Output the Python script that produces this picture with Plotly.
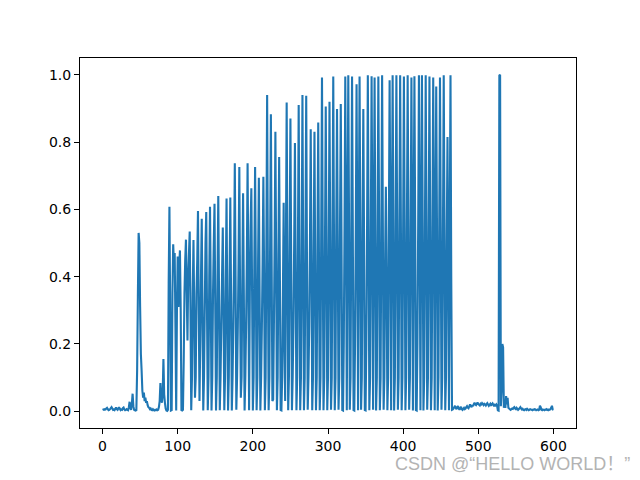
import plotly.graph_objects as go

# signal values, one per sample (index 0..600)
amplitude = [
    0.004, 0.005, 0.004, 0.006, 0.005, 0.008, 0.010, 0.006, 0.003, 0.004,
    0.006, 0.009, 0.012, 0.008, 0.004, 0.005, 0.003, 0.007, 0.011, 0.006,
    0.004, 0.008, 0.012, 0.007, 0.003, 0.005, 0.004, 0.009, 0.011, 0.005,
    0.003, 0.004, 0.006, 0.004, 0.003, 0.012, 0.028, 0.010, 0.004, 0.022,
    0.052, 0.015, 0.004, 0.003, 0.002, 0.003, 0.12, 0.34, 0.53, 0.50,
    0.31, 0.17, 0.12, 0.06, 0.04, 0.055, 0.03, 0.04, 0.025, 0.03,
    0.018, 0.012, 0.01, 0.006, 0.008, 0.004, 0.003, 0.006, 0.003, 0.002,
    0.004, 0.003, 0.005, 0.003, 0.004, 0.012, 0.03, 0.084, 0.04, 0.025,
    0.05, 0.155, 0.05, 0.025, 0.008, 0.002, 0.001, 0.004, 0.38, 0.608,
    0.3, 0.002, 0.003, 0.35, 0.496, 0.44, 0.47, 0.25, 0.002, 0.3,
    0.46, 0.31, 0.43, 0.478, 0.3, 0.003, 0.002, 0.004, 0.15, 0.35,
    0.45, 0.51, 0.35, 0.21, 0.4, 0.47, 0.534, 0.3, 0.003, 0.1,
    0.35, 0.509, 0.3, 0.04, 0.1, 0.35, 0.45, 0.595, 0.3, 0.03,
    0.2, 0.4, 0.572, 0.3, 0.002, 0.1, 0.3, 0.5, 0.592, 0.3,
    0.003, 0.1, 0.4, 0.608, 0.35, 0.002, 0.1, 0.35, 0.5, 0.617,
    0.3, 0.002, 0.1, 0.4, 0.64, 0.35, 0.003, 0.1, 0.25, 0.4,
    0.546, 0.3, 0.003, 0.1, 0.4, 0.632, 0.3, 0.002, 0.1, 0.4,
    0.635, 0.35, 0.002, 0.1, 0.25, 0.45, 0.737, 0.4, 0.004, 0.1,
    0.25, 0.45, 0.726, 0.35, 0.04, 0.1, 0.4, 0.648, 0.35, 0.002,
    0.1, 0.25, 0.45, 0.737, 0.4, 0.003, 0.35, 0.55, 0.663, 0.35,
    0.002, 0.1, 0.45, 0.726, 0.4, 0.003, 0.1, 0.45, 0.694, 0.35,
    0.002, 0.1, 0.25, 0.45, 0.697, 0.4, 0.003, 0.1, 0.5, 0.94,
    0.45, 0.003, 0.1, 0.5, 0.883, 0.45, 0.03, 0.035, 0.25, 0.5,
    0.831, 0.45, 0.003, 0.1, 0.45, 0.756, 0.4, 0.003, 0.002, 0.1,
    0.35, 0.62, 0.2, 0.03, 0.5, 0.918, 0.45, 0.003, 0.1, 0.5,
    0.87, 0.45, 0.003, 0.1, 0.25, 0.5, 0.797, 0.4, 0.003, 0.1,
    0.5, 0.91, 0.45, 0.003, 0.1, 0.5, 0.94, 0.45, 0.003, 0.1,
    0.5, 0.938, 0.45, 0.004, 0.1, 0.25, 0.5, 0.838, 0.45, 0.003,
    0.1, 0.5, 0.831, 0.4, 0.003, 0.1, 0.5, 0.858, 0.45, 0.003,
    0.1, 0.55, 0.992, 0.5, 0.003, 0.1, 0.5, 0.906, 0.5, 0.003,
    0.1, 0.5, 0.92, 0.5, 0.004, 0.1, 0.55, 0.995, 0.5, 0.003,
    0.1, 0.55, 0.898, 0.5, 0.004, 0.1, 0.55, 0.913, 0.5, 0.003,
    0.002, 0.2, 0.55, 0.995, 0.55, 0.003, 0.55, 0.999, 0.55, 0.004,
    0.1, 0.55, 0.995, 0.55, 0.003, 0.002, 0.2, 0.55, 0.972, 0.5,
    0.003, 0.55, 0.995, 0.55, 0.004, 0.1, 0.55, 0.898, 0.5, 0.003,
    0.002, 0.2, 0.55, 0.999, 0.55, 0.003, 0.1, 0.55, 0.996, 0.55,
    0.004, 0.55, 0.992, 0.5, 0.002, 0.1, 0.55, 0.995, 0.55, 0.003,
    0.1, 0.55, 0.999, 0.55, 0.004, 0.1, 0.45, 0.667, 0.4, 0.003,
    0.1, 0.55, 0.984, 0.55, 0.003, 0.55, 0.999, 0.55, 0.002, 0.1,
    0.55, 0.999, 0.55, 0.004, 0.1, 0.55, 0.999, 0.55, 0.003, 0.1,
    0.55, 0.995, 0.55, 0.003, 0.1, 0.55, 0.999, 0.55, 0.004, 0.1,
    0.55, 0.992, 0.55, 0.002, 0.55, 0.996, 0.55, 0.003, 0.002, 0.2,
    0.55, 0.999, 0.55, 0.003, 0.55, 0.999, 0.55, 0.002, 0.1, 0.55,
    0.999, 0.55, 0.004, 0.1, 0.55, 0.995, 0.55, 0.003, 0.1, 0.55,
    0.992, 0.55, 0.003, 0.55, 0.965, 0.55, 0.002, 0.1, 0.55, 0.992,
    0.55, 0.004, 0.1, 0.55, 0.999, 0.55, 0.003, 0.1, 0.5, 0.815,
    0.45, 0.003, 0.55, 0.999, 0.4, 0.004, 0.005, 0.008, 0.012, 0.016,
    0.01, 0.006, 0.012, 0.015, 0.008, 0.004, 0.009, 0.013, 0.006, 0.004,
    0.007, 0.01, 0.006, 0.008, 0.012, 0.015, 0.011, 0.009, 0.014, 0.02,
    0.016, 0.012, 0.018, 0.015, 0.021, 0.025, 0.02, 0.018, 0.022, 0.026,
    0.021, 0.019, 0.017, 0.022, 0.02, 0.024, 0.021, 0.018, 0.022, 0.02,
    0.017, 0.021, 0.024, 0.02, 0.016, 0.019, 0.022, 0.018, 0.02, 0.023,
    0.019, 0.015, 0.019, 0.017, 0.02, 0.016, 0.003, 0.002, 0.998, 1.0,
    0.015, 0.06, 0.2, 0.19, 0.01, 0.03, 0.01, 0.045, 0.02, 0.04,
    0.01, 0.008, 0.006, 0.004, 0.006, 0.008, 0.007, 0.01, 0.012, 0.008,
    0.006, 0.01, 0.007, 0.004, 0.006, 0.009, 0.012, 0.008, 0.005, 0.007,
    0.004, 0.003, 0.005, 0.006, 0.004, 0.007, 0.005, 0.003, 0.004, 0.006,
    0.005, 0.004, 0.003, 0.005, 0.004, 0.006, 0.005, 0.003, 0.004, 0.005,
    0.003, 0.004, 0.016, 0.012, 0.004, 0.003, 0.005, 0.004, 0.003, 0.005,
    0.004, 0.006, 0.004, 0.003, 0.005, 0.004, 0.006, 0.01, 0.016, 0.005,
    0.004,
]
sample_idx = list(range(len(amplitude)))

x_ticks = [0, 100, 200, 300, 400, 500, 600]
y_ticks = [0.0, 0.2, 0.4, 0.6, 0.8, 1.0]
watermark = "CSDN @“HELLO WORLD！”"

fig = go.Figure()
fig.add_trace(go.Scatter(x=sample_idx, y=amplitude, mode="lines",
                         line=dict(color="#1f77b4", width=2.1, simplify=False),
                         showlegend=False))

axis_style = dict(showline=True, linecolor="black", linewidth=1, mirror=True,
                  showgrid=False, zeroline=False, ticks="outside", ticklen=5,
                  tickcolor="black", tickfont=dict(family="DejaVu Sans", size=14, color="black"))

fig.update_xaxes(range=[-30, 630], tickvals=x_ticks, **axis_style)
fig.update_yaxes(range=[-0.05, 1.05], tickvals=y_ticks, tickformat=".1f", **axis_style)

fig.add_annotation(text=watermark, xref="paper", yref="paper", x=0.631, y=-0.098,
                   xanchor="left", yanchor="middle", showarrow=False,
                   font=dict(family="Liberation Sans, Noto Sans CJK SC", size=18, color="#b3b3b3"))

# page body adds an 8px offset, so the figure is 8px smaller and margins shifted
fig.update_layout(width=632, height=472, margin=dict(l=72, r=64, t=50, b=52),
                  plot_bgcolor="white", paper_bgcolor="white")

fig.write_html("out.html")
